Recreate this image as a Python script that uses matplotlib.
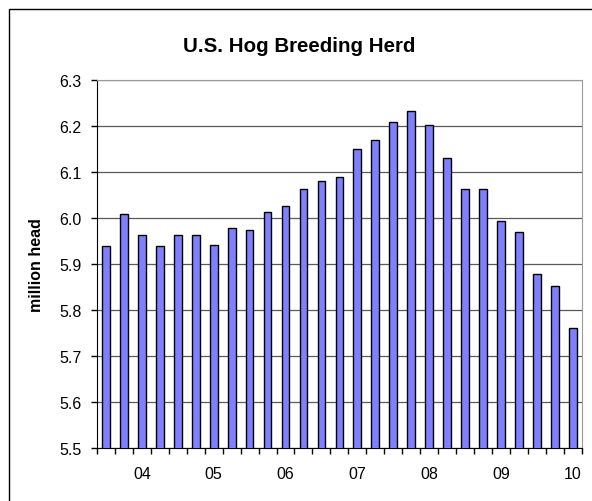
# U.S. Hog Breeding Herd - quarterly bar chart
import numpy as np
import matplotlib.pyplot as plt
from matplotlib.patches import Rectangle

plt.rcParams['font.family'] = ['Liberation Sans', 'DejaVu Sans']

# quarterly breeding herd, million head
herd = [5.939, 6.009, 5.962, 5.938, 5.963, 5.963, 5.941, 5.978, 5.974,
        6.012, 6.026, 6.062, 6.080, 6.088, 6.149, 6.170, 6.209, 6.233,
        6.201, 6.131, 6.062, 6.062, 5.993, 5.969, 5.877, 5.851, 5.761]
year_labels = ['04', '05', '06', '07', '08', '09', '10']
label_pos = [2, 6, 10, 14, 18, 22, 26]

x = np.arange(len(herd))

fig = plt.figure(figsize=(5.92, 5.02), dpi=100)
ax = fig.add_axes([0.1639, 0.1056, 0.8187, 0.7336])

# outer chart frame (runs off the right/bottom edge)
fig.patches.append(Rectangle((9 / 592, -0.1), 1.2, 1.1 - 10 / 502,
                             transform=fig.transFigure, fill=False,
                             edgecolor='black', linewidth=1.0))

ax.bar(x, herd, width=0.43, color='#8080FF', edgecolor='black',
       linewidth=1.0, zorder=3)

ax.set_xlim(-0.5, len(herd) - 0.5)
ax.set_ylim(5.5, 6.3)
ax.set_yticks(np.arange(5.5, 6.31, 0.1))
ax.set_yticklabels([f'{v:.1f}' for v in np.arange(5.5, 6.31, 0.1)])
ax.yaxis.grid(True, color='#5a5a5a', linewidth=0.9, zorder=0)

ax.set_xticks(label_pos)
ax.set_xticklabels(year_labels)
ax.set_xticks(np.arange(-0.5, len(herd), 1.0), minor=True)
ax.tick_params(axis='x', which='major', length=0, pad=13, labelsize=11.5)
ax.tick_params(axis='x', which='minor', length=4, width=1, direction='out')
ax.tick_params(axis='y', length=4, width=1, direction='out', pad=7, labelsize=11.5)

for s in ['top', 'right']:
    ax.spines[s].set_color('#9a9a9a')
for s in ['left', 'bottom']:
    ax.spines[s].set_color('black')

ax.set_ylabel('million head', fontsize=11.5, fontweight='bold', labelpad=11)
fig.text(0.505, 1 - 46 / 502, 'U.S. Hog Breeding Herd', ha='center',
         va='center', fontsize=14.8, fontweight='bold')

plt.savefig('out.png', dpi=100)
